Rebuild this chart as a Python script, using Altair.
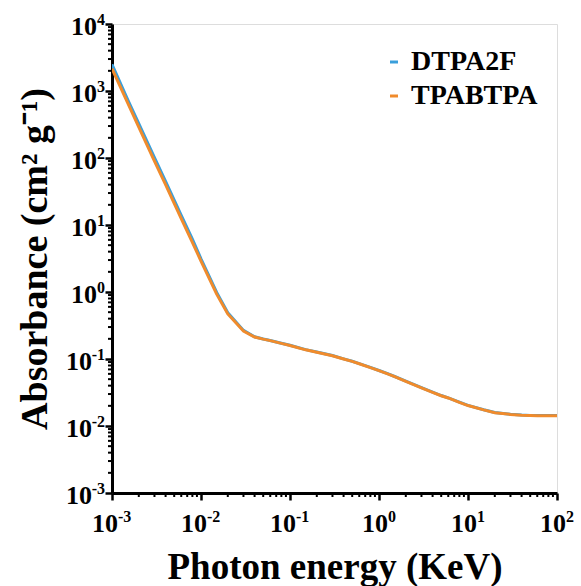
import altair as alt
import pandas as pd

energy = [0.001, 0.0015, 0.002, 0.003, 0.004, 0.005, 0.006, 0.008, 0.01, 0.015, 0.02, 0.03,
          0.04, 0.05, 0.06, 0.08, 0.1, 0.15, 0.2, 0.3, 0.4, 0.5, 0.6, 0.8, 1, 1.25, 1.5, 2,
          3, 4, 5, 6, 8, 10, 15, 20, 30, 40, 50, 60, 80, 100]
dtpa2f = [2500, 745, 325, 101, 44.8, 23.5, 13.9, 6.15, 3.13, 0.985, 0.49, 0.267, 0.215, 0.199,
          0.189, 0.172, 0.160, 0.138, 0.127, 0.1125, 0.1005, 0.0925, 0.0855, 0.075, 0.0674,
          0.0604, 0.0548, 0.0468, 0.0374, 0.032, 0.0285, 0.0263, 0.0227, 0.0203, 0.0175,
          0.0159, 0.015, 0.0146, 0.0144, 0.0143, 0.0143, 0.0143]
tpabtpa = [2150, 665, 290, 90, 40, 21, 12.4, 5.5, 2.9, 0.93, 0.47, 0.262, 0.213, 0.198, 0.188,
           0.171, 0.159, 0.137, 0.126, 0.112, 0.100, 0.092, 0.085, 0.0745, 0.067, 0.060, 0.0545,
           0.0465, 0.0372, 0.0318, 0.0283, 0.0262, 0.0226, 0.0202, 0.0174, 0.0158, 0.0149,
           0.0145, 0.0143, 0.0142, 0.0142, 0.0142]
series_names = ["DTPA2F", "TPABTPA"]
series_colors = ["#3a9fdb", "#f08b2c"]

x_exponents = [-3, -2, -1, 0, 1, 2]
y_exponents = [-3, -2, -1, 0, 1, 2, 3, 4]
minor_mult = [2, 3, 4, 5, 6, 7, 8, 9]

FONT = "Liberation Serif"
W, H = 445, 469

rows = []
for name, vals in zip(series_names, [dtpa2f, tpabtpa]):
    for e, v in zip(energy, vals):
        rows.append({"energy": e, "abs": v, "series": name})
df = pd.DataFrame(rows)

xscale = alt.Scale(type="log", domain=[1e-3, 1e2], nice=False)
yscale = alt.Scale(type="log", domain=[1e-3, 1e4], nice=False)

x_major = [10.0 ** k for k in x_exponents]
y_major = [10.0 ** k for k in y_exponents]

lines = alt.Chart(df).mark_line(strokeWidth=3, clip=True).encode(
    x=alt.X("energy:Q", scale=xscale,
            axis=alt.Axis(values=x_major, labels=False, tickSize=7, tickWidth=2.5,
                          domainWidth=3, domainColor="black", tickColor="black", grid=False,
                          title="Photon energy (KeV)", titleFont=FONT, titleFontSize=37,
                          titleFontWeight="bold", titleColor="black",
                          titleBaseline="alphabetic", titleY=85)),
    y=alt.Y("abs:Q", scale=yscale,
            axis=alt.Axis(values=y_major, labels=False, tickSize=7, tickWidth=2.5,
                          domainWidth=3, domainColor="black", tickColor="black", grid=False,
                          title="Absorbance (cm² g⁻¹)", titleFont=FONT, titleFontSize=38,
                          titleFontWeight="bold", titleColor="black",
                          titleBaseline="alphabetic", titleX=-66, titleY=H / 2,
                          titleAngle=270)),
    color=alt.Color("series:N", sort=series_names,
                    scale=alt.Scale(domain=series_names, range=series_colors),
                    legend=alt.Legend(title=None, orient="none", legendX=268, legendY=24,
                                      symbolType="stroke", symbolSize=64,
                                      symbolStrokeWidth=3, labelFont=FONT,
                                      labelFontSize=28, labelFontWeight="bold",
                                      labelColor="black", labelOffset=3, rowPadding=6)),
    detail="series:N",
)

# minor ticks
xminor = pd.DataFrame({"v": [m * 10.0 ** k for k in x_exponents[:-1] for m in minor_mult]})
yminor = pd.DataFrame({"v": [m * 10.0 ** k for k in y_exponents[:-1] for m in minor_mult]})
xminor_rules = alt.Chart(xminor).mark_rule(color="black", strokeWidth=2).encode(
    x=alt.X("v:Q", scale=xscale), y=alt.value(H), y2=alt.value(H + 4))
yminor_rules = alt.Chart(yminor).mark_rule(color="black", strokeWidth=2).encode(
    y=alt.Y("v:Q", scale=yscale), x=alt.value(0), x2=alt.value(-4))

# tick labels
xl = pd.DataFrame({"v": x_major, "e": [str(k) for k in x_exponents], "neg": [k < 0 for k in x_exponents]})
yl = pd.DataFrame({"v": y_major, "e": [str(k) for k in y_exponents], "neg": [k < 0 for k in y_exponents]})

def xlab(neg, dx):
    base = alt.Chart(xl).transform_filter(alt.datum.neg == neg)
    b = base.mark_text(font=FONT, fontSize=26, fontWeight="bold", align="right",
                       baseline="alphabetic", dx=dx, color="black").encode(
        x=alt.X("v:Q", scale=xscale), y=alt.value(H + 39), text=alt.value("10"))
    e = base.mark_text(font=FONT, fontSize=16, fontWeight="bold", align="left",
                       baseline="alphabetic", dx=dx, color="black").encode(
        x=alt.X("v:Q", scale=xscale), y=alt.value(H + 29), text="e:N")
    return b + e

def ylab(neg, bx):
    base = alt.Chart(yl).transform_filter(alt.datum.neg == neg)
    b = base.mark_text(font=FONT, fontSize=26, fontWeight="bold", align="right",
                       baseline="alphabetic", dy=11, color="black").encode(
        y=alt.Y("v:Q", scale=yscale), x=alt.value(bx), text=alt.value("10"))
    e = base.mark_text(font=FONT, fontSize=16, fontWeight="bold", align="right",
                       baseline="alphabetic", dy=1, color="black").encode(
        y=alt.Y("v:Q", scale=yscale), x=alt.value(-7), text="e:N")
    return b + e

chart = alt.layer(
    lines, xminor_rules, yminor_rules,
    xlab(True, 6), xlab(False, 9), ylab(True, -20), ylab(False, -15),
).properties(
    width=W, height=H,
    autosize=alt.AutoSizeParams(type="none"),
    padding={"left": 112, "top": 24, "right": 24, "bottom": 93},
).configure_view(stroke="black", strokeWidth=3).configure(background="white")

chart.save("out.html", embed_options={"renderer": "svg", "actions": False})
